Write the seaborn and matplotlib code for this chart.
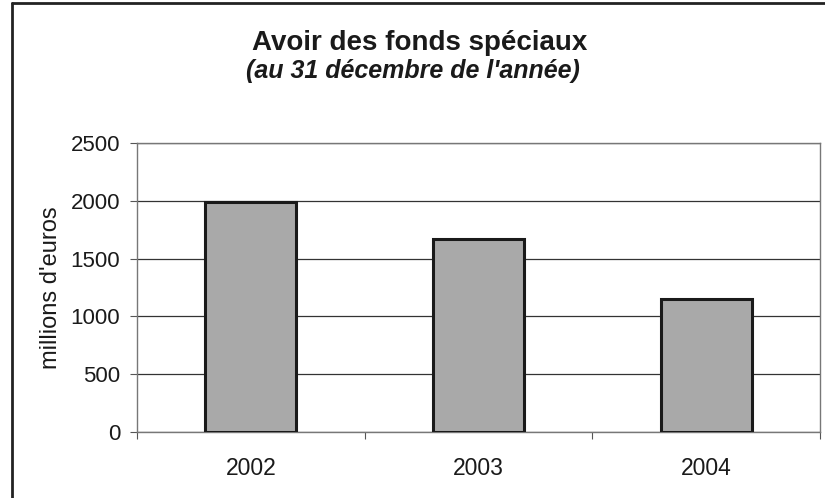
import matplotlib
matplotlib.use("Agg")
import matplotlib.pyplot as plt
from matplotlib.lines import Line2D
from matplotlib.ticker import FixedLocator
import seaborn as sns
import pandas as pd

years = ["2002", "2003", "2004"]
values = [1990, 1670, 1150]
yticks = [0, 500, 1000, 1500, 2000, 2500]

sns.set_theme(style="white")
plt.rcParams['font.family'] = ['Liberation Sans', 'DejaVu Sans']

df = pd.DataFrame({"year": years, "value": values})

fig = plt.figure(figsize=(8.25, 4.98), dpi=100)
ax = fig.add_axes([137/825, 1-432/498, (820-137)/825, (432-143)/498])

sns.barplot(data=df, x="year", y="value", ax=ax, color="#a9a9a9",
            saturation=1, width=0.4, edgecolor="#1a1a1a", linewidth=2.2, zorder=3)

ax.set_ylim(0, 2500)
ax.set_xlim(-0.5, 2.5)
ax.set_yticks(yticks)
ax.set_yticklabels([str(v) for v in yticks], fontsize=16, color="#1a1a1a")
ax.tick_params(axis="y", which="major", left=True, length=5, width=0.8, color="#555555", pad=7)
ax.tick_params(axis="x", which="major", bottom=False, labelsize=16.5, labelcolor="#1a1a1a", pad=12)
ax.xaxis.set_minor_locator(FixedLocator([-0.5, 0.5, 1.5, 2.5]))
ax.tick_params(axis="x", which="minor", bottom=True, length=5, width=0.8, color="#555555")
ax.set_xlabel("")
ax.set_ylabel("millions d'euros", fontsize=17, color="#1a1a1a")
ax.yaxis.set_label_coords((62 - 137) / (820 - 137), 0.5)
ax.yaxis.grid(True, color="#333333", linewidth=0.9, zorder=0)
ax.set_axisbelow(True)
for s in ax.spines.values():
    s.set_color("#777777")
    s.set_linewidth(1.0)
    s.set_visible(True)

fig.text(420/825, 1-50/498, "Avoir des fonds spéciaux", ha="center", va="baseline",
         fontsize=20, fontweight="bold", color="#1a1a1a")
fig.text(413/825, 1-78/498, "(au 31 décembre de l'année)", ha="center", va="baseline",
         fontsize=18, fontweight="bold", fontstyle="italic", color="#1a1a1a")

fig.add_artist(Line2D([12/825, 12/825], [0, 1-3/498], transform=fig.transFigure,
                      color="#222222", linewidth=2))
fig.add_artist(Line2D([12/825, 1], [1-3/498, 1-3/498], transform=fig.transFigure,
                      color="#222222", linewidth=2))

fig.savefig("out.png", dpi=100, facecolor="white")
